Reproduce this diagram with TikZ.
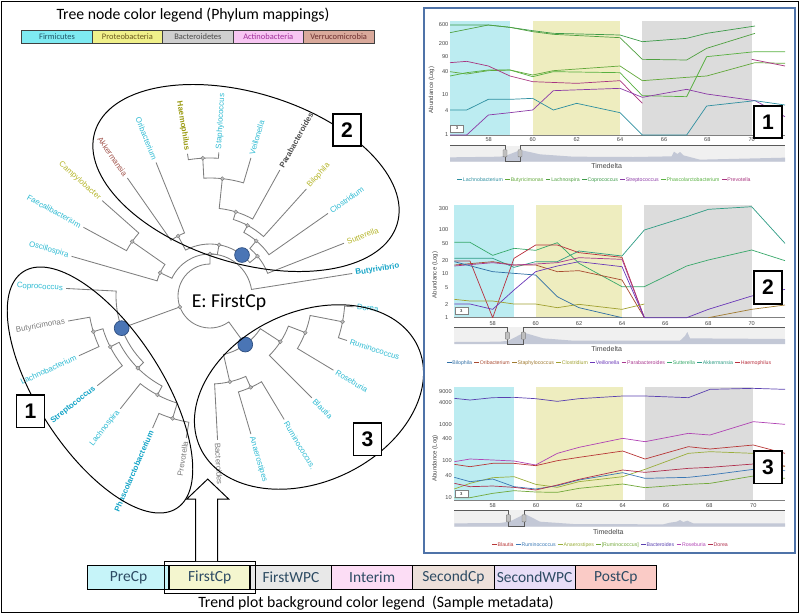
\documentclass[tikz,border=0pt]{standalone}
\usepackage{fontspec}
\setmainfont{Liberation Sans}
\newfontfamily\califont{Carlito}
\usetikzlibrary{positioning,fit,calc}
\definecolor{phfirm}{HTML}{7EEAF2}
\definecolor{phprot}{HTML}{F0F08A}
\definecolor{phbact}{HTML}{CFCFCF}
\definecolor{phacti}{HTML}{F7C6F2}
\definecolor{phverr}{HTML}{D9A99B}
\definecolor{phfirmt}{HTML}{1F5566}
\definecolor{phprott}{HTML}{6B5A1E}
\definecolor{phbactt}{HTML}{4A4A4A}
\definecolor{phactit}{HTML}{A0309A}
\definecolor{phverrt}{HTML}{6B2E2E}
\definecolor{firmcol}{HTML}{2DBAD2}
\definecolor{firmbold}{HTML}{12A3C6}
\definecolor{protcol}{HTML}{B5B52A}
\definecolor{protbold}{HTML}{9A9A12}
\definecolor{bactcol}{HTML}{7A7A7A}
\definecolor{bactbold}{HTML}{4D4D4D}
\definecolor{verrcol}{HTML}{A0524A}
\definecolor{treegray}{HTML}{7E7E7E}
\definecolor{dotgray}{HTML}{BDBDBD}
\definecolor{cladeblue}{HTML}{4A75B5}
\definecolor{cladeedge}{HTML}{2F4F80}
\definecolor{panelblue}{HTML}{4F73A8}
\definecolor{tickgray}{HTML}{444444}
\definecolor{bandpre}{HTML}{BCECF1}
\definecolor{bandfirst}{HTML}{EEEDBF}
\definecolor{bandsecond}{HTML}{DCDCDC}
\definecolor{sliderbg}{HTML}{F0F0F0}
\definecolor{sliderarea}{HTML}{C3C8D6}
\definecolor{phasetext}{HTML}{2D4B63}
\definecolor{prefill}{HTML}{C6F4F9}
\definecolor{firstfill}{HTML}{F4F6CF}
\definecolor{fwpcfill}{HTML}{E8E8E8}
\definecolor{interimfill}{HTML}{FCDDF5}
\definecolor{secondfill}{HTML}{EDE0DA}
\definecolor{swpcfill}{HTML}{E8DEF7}
\definecolor{postfill}{HTML}{FACBC6}
% trend line colours
\definecolor{lachno}{HTML}{2E8FA0}
\definecolor{butyri}{HTML}{62A83A}
\definecolor{lachnosp}{HTML}{4FA040}
\definecolor{copro}{HTML}{3C9A48}
\definecolor{strepto}{HTML}{8B3AA6}
\definecolor{phasco}{HTML}{58B040}
\definecolor{prevo}{HTML}{A8347F}
\definecolor{bilo}{HTML}{2F6EA5}
\definecolor{oriba}{HTML}{A84A30}
\definecolor{staph}{HTML}{A07A30}
\definecolor{clost}{HTML}{A0A030}
\definecolor{veill}{HTML}{6A38B8}
\definecolor{parab}{HTML}{A8388F}
\definecolor{sutter}{HTML}{38A86A}
\definecolor{akker}{HTML}{2E9C84}
\definecolor{haemo}{HTML}{B8303E}
\definecolor{blaut}{HTML}{B83838}
\definecolor{rumin}{HTML}{3A78B5}
\definecolor{anaer}{HTML}{9AAE3C}
\definecolor{rumbr}{HTML}{72A83A}
\definecolor{bacter}{HTML}{5A40B0}
\definecolor{roseb}{HTML}{B044B4}
\definecolor{dorea}{HTML}{B0304E}
\newcommand{\lgd}[2]{\textcolor{#1}{\rule[0.3em]{0.9em}{0.35pt}\,#2}\hspace{0.45em}}

\begin{document}
\begin{tikzpicture}[
  x=0.025cm, y=-0.025cm,
  heading/.style={font=\califont\fontsize{11.2}{13}\selectfont},
  phylum/.style={draw=darkgray, line width=0.5pt, outer sep=0pt, inner sep=0pt, minimum width=1.76cm, minimum height=0.315cm, font=\califont\fontsize{6}{7}\selectfont},
  phase/.style={draw=black, line width=0.6pt, outer sep=0pt, inner sep=0pt, minimum width=2.03cm, minimum height=0.6cm, text=phasetext, font=\califont\fontsize{11}{12}\selectfont},
  branch/.style={draw=treegray, line width=0.6pt},
  junction/.style={circle, draw=treegray, fill=dotgray, line width=0.3pt, inner sep=0pt, minimum size=2.8pt},
  clade/.style={circle, draw=cladeedge, fill=cladeblue, line width=0.5pt, inner sep=0pt, minimum size=0.37cm},
  leaf/.style={inner sep=0.8pt, font=\fontsize{5.6}{6}\selectfont},
  firm/.style={text=firmcol},
  firmb/.style={text=firmbold, font=\fontsize{5.6}{6}\selectfont\bfseries},
  prot/.style={text=protcol},
  protb/.style={text=protbold, font=\fontsize{5.6}{6}\selectfont\bfseries},
  bact/.style={text=bactcol},
  bactb/.style={text=bactbold, font=\fontsize{5.6}{6}\selectfont\bfseries},
  verr/.style={text=verrcol},
  cladering/.style={draw=black, line width=0.7pt},
  badge/.style={draw=black, line width=1.3pt, fill=white, minimum width=0.7cm, minimum height=0.82cm, inner sep=0pt, font=\fontsize{15}{15}\selectfont\bfseries},
  panel/.style={draw=panelblue, line width=0.8pt},
  ytick/.style={anchor=east, inner sep=0.5pt, text=tickgray, font=\fontsize{4}{4}\selectfont},
  xtick/.style={inner sep=0.5pt, text=tickgray, font=\fontsize{4}{4}\selectfont},
  ylab/.style={rotate=90, text=tickgray, font=\fontsize{4.3}{5}\selectfont},
  tdlab/.style={text=tickgray, font=\fontsize{5}{5}\selectfont},
  keytext/.style={font=\fontsize{3.7}{4}\selectfont},
  zoombox/.style={draw=gray, fill=white, line width=0.3pt, inner sep=0pt, minimum width=0.32cm, minimum height=0.17cm, font=\fontsize{3}{3}\selectfont},
  grip/.style={draw=gray, fill=lightgray, line width=0.3pt, rounded corners=0.5pt, inner sep=0pt, minimum width=0.1cm, minimum height=0.18cm},
  sliderline/.style={draw=gray!70!black, line width=0.6pt},
  trend/.style={line width=0.5pt, line join=round}
]
\useasboundingbox (0,0) rectangle (800,614);
\draw[line width=0.6pt] (1.5,1) rectangle (798.5,612.5);

% phylum colour legend
\node[heading] (treetitle) at (193,15) {Tree node color legend (Phylum mappings)};
\node[phylum, fill=phfirm, text=phfirmt] (firmicutes) at (57,37) {Firmicutes};
\node[phylum, fill=phprot, text=phprott, right=0pt of firmicutes] (proteo) {Proteobacteria};
\node[phylum, fill=phbact, text=phbactt, right=0pt of proteo] (bactero) {Bacteroidetes};
\node[phylum, fill=phacti, text=phactit, right=0pt of bactero] (actino) {Actinobacteria};
\node[phylum, fill=phverr, text=phverrt, right=0pt of actino] (verruco) {Verrucomicrobia};

% radial tree
\begin{scope}[shift={(210,296)}, yscale=-1]
\foreach \a/\r/\b/\p in {86.5/144/93/138, 99/144/93/138, 93/138/84/118, 73.5/144/84/118,
    84/118/73/88, 61/144/73/88, 73/88/62/80, 48/144/62/80, 62/80/50/72, 35/144/50/72,
    50/72/40/62, 21.5/144/40/62, 112/144/118/68, 125/144/118/68, 40/62/80/52, 118/68/80/52,
    138.5/144/145/95, 151.5/144/145/95, 145/95/155/55, 164/144/155/55,
    80/52/90/42, 9/144/90/42, 155/55/90/42,
    190/144/197/122, 204.5/144/197/122, 197/122/207/112, 218.5/144/207/112,
    246.5/144/253/128, 260.5/144/253/128, 231.5/144/242/112, 253/128/242/112,
    207/112/225/102, 242/112/225/102, 177/144/200/94, 225/102/200/94,
    342/144/349/135, 355.7/144/349/135, 329/144/339/102, 349/135/339/102,
    315/144/327/84, 339/102/327/84, 286.5/144/294/100, 301/144/294/100,
    273/144/283/88, 294/100/283/88, 283/88/306/60, 327/84/306/60,
    90/42/200/32, 200/94/200/32, 306/60/200/32}
  \draw[branch] (\a:\r) -- (\a:\p) arc[start angle=\a, end angle=\b, radius=\p];
\foreach \a/\r in {93/138, 84/118, 73/88, 62/80, 50/72, 40/62, 118/68, 80/52, 145/95, 155/55,
    90/42, 197/122, 207/112, 253/128, 242/112, 225/102, 349/135, 339/102, 327/84,
    294/100, 283/88, 200/32}
  \node[junction] (j\a) at (\a:\r) {};
\node[clade] (root1) at (200:94) {};
\node[clade] (root2) at (52:52) {};
\node[clade] (root3) at (306:60) {};
% leaf labels, right half
\foreach \a/\t/\s [count=\i] in {355.7/Dorea/firm, 9/Butyrivibrio/firmb, 21.5/Sutterella/prot,
    35/Clostridium/firm, 48/Bilophila/prot, 61/Parabacteroides/bactb, 73.5/Veillonella/firm,
    86.5/Staphylococcus/firm, 273/Bacteroides/bact, 286.5/Anaerostipes/firm,
    301/Ruminococcus./firm, 315/Blautia/firm, 329/Roseburia/firm, 342/Ruminococcus/firm}
  \node[leaf, \s, anchor=west, rotate=\a] (rl\i) at (\a:146) {\t};
% leaf labels, left half
\foreach \a/\t/\s [count=\i] in {99/Haemophilus/protb, 112/Oribacterium/firm, 125/Akkermansia/verr,
    138.5/Campylobacter/prot, 151.5/Faecalibacterium/firm, 164/Oscillospira/firm,
    177/Coprococcus/firm, 190/Butyricimonas/bact, 204.5/Lachnobacterium/firm,
    218.5/Streptococcus/firmb, 231.5/Lachnospira/firm, 246.5/Phascolarctobacterium/firmb,
    260.5/Prevotella/bact}
  \node[leaf, \s, anchor=east, rotate=\a+180] (ll\i) at (\a:146) {\t};
\end{scope}
\node[font=\califont\fontsize{14}{16}\selectfont] (stage) at (229,302) {E: FirstCp};

% clade outlines and badges
\draw[cladering, rotate around={-17:(246,178)}] (246,178) ellipse [x radius=158, y radius=85];
\draw[cladering, rotate around={-57:(100,390)}] (100,390) ellipse [x radius=141, y radius=62];
\draw[cladering, rotate around={25:(309,397)}] (309,397) ellipse [x radius=120, y radius=85];
\node[badge] (tb1) at (30.5,411) {1};
\node[badge] (tb2) at (347,130) {2};
\node[badge] (tb3) at (367.5,439) {3};

% trend plots
\draw[panel] (424,8) rectangle (795,553);

% plot 1
\begin{scope}[shift={(400,0)}, scale=1/3]
\fill[bandpre] (150,63) rectangle (330,405);
\fill[bandfirst] (398,63) rectangle (660,405);
\fill[bandsecond] (727,63) rectangle (1055,405);
\draw[gray, line width=0.4pt] (150,405) -- (1155,405);
\foreach \y/\t in {75/600, 130/200, 170/90, 215/40, 285/10, 333/4, 405/1}
  \node[ytick] (ya\t) at (148,\y) {\t};
\foreach \x/\t in {266/58, 398/60, 530/62, 660/64, 792/66, 922/68, 1055/70}
  \node[xtick] (xa\t) at (\x,420) {\t};
\node[ylab] (ylaba) at (95,270) {Abundance (Log)};
\draw[trend, copro] (150,75) -- (265,75) -- (330,82) -- (398,92) -- (460,100) -- (660,105) -- (727,125) -- (860,115) -- (920,100) -- (1065,78);
\draw[trend, lachnosp] (150,98) -- (265,75) -- (330,82) -- (398,95) -- (460,103) -- (660,113) -- (727,178) -- (860,180) -- (920,145) -- (1065,100);
\draw[trend, butyri] (150,215) -- (200,222) -- (265,212) -- (330,210) -- (398,225) -- (460,212) -- (660,198) -- (727,242) -- (860,232) -- (920,228) -- (1065,188) -- (1155,190);
\draw[trend, phasco] (150,228) -- (200,218) -- (265,210) -- (330,210) -- (398,230) -- (460,215) -- (660,218) -- (727,287) -- (860,290) -- (920,170) -- (1065,155) -- (1155,155);
\draw[trend, prevo] (150,188) -- (200,184) -- (265,198) -- (330,228) -- (398,245) -- (530,250) -- (660,242) -- (727,310);
\draw[trend, prevo] (1055,178) -- (1155,198);
\draw[trend, strepto] (150,405) -- (200,405) -- (265,345) -- (330,338) -- (398,330) -- (460,272) -- (660,265) -- (727,292) -- (860,268) -- (920,282) -- (1065,302) -- (1155,350);
\draw[trend, lachno] (150,330) -- (200,330) -- (265,298) -- (330,298) -- (398,295) -- (460,330) -- (530,310) -- (660,338) -- (727,405) -- (860,405) -- (920,318) -- (1065,302) -- (1155,315);
\node[zoombox] (za) at (171,385) {3};
\fill[sliderbg] (150,437) rectangle (1155,485);
\fill[sliderarea] (150,485) -- (150,472) -- (300,470) -- (320,466) -- (362,450) -- (420,463) -- (520,470) -- (700,471) -- (815,469) -- (822,455) -- (832,462) -- (840,456) -- (850,466) -- (900,479) -- (1155,473) -- (1155,485) -- cycle;
\draw[sliderline] (150,437) -- (315,437) -- (315,485) -- (360,485) -- (360,437) -- (1155,437);
\node[grip] (ga1) at (315,460) {};
\node[grip] (ga2) at (360,460) {};
\node[tdlab] (tda) at (620,497) {Timedelta};
\node[keytext] (keya) at (612,540) {\lgd{lachno}{Lachnobacterium}\lgd{butyri}{Butyricimonas}\lgd{lachnosp}{Lachnospira}\lgd{copro}{Coprococcus}\lgd{strepto}{Streptococcus}\lgd{phasco}{Phascolarctobacterium}\lgd{prevo}{Prevotella}};
\end{scope}

% plot 2
\begin{scope}[shift={(400,190)}, scale=1/3]
\fill[bandpre] (163,45) rectangle (342,383);
\fill[bandfirst] (407,45) rectangle (666,383);
\fill[bandsecond] (733,45) rectangle (1057,383);
\draw[gray, line width=0.4pt] (163,383) -- (1155,383);
\foreach \y/\t in {57/300, 118/100, 160/50, 212/20, 252/10, 293/5, 345/2, 383/1}
  \node[ytick] (yb\t) at (148,\y) {\t};
\foreach \x/\t in {278/58, 407/60, 537/62, 666/64, 796/66, 925/68, 1055/70}
  \node[xtick] (xb\t) at (\x,400) {\t};
\node[ylab] (ylabb) at (105,255) {Abundance (Log)};
\draw[trend, akker] (163,205) -- (278,205) -- (342,232) -- (407,215) -- (472,215) -- (537,183) -- (666,198) -- (733,120) -- (860,80) -- (925,58) -- (1055,50) -- (1155,160);
\draw[trend, sutter] (163,157) -- (210,157) -- (278,196) -- (342,175) -- (407,181) -- (472,158) -- (537,220) -- (666,290) -- (733,290) -- (860,228) -- (925,210) -- (1055,180) -- (1155,212);
\draw[trend, haemo] (163,213) -- (210,213) -- (278,383) -- (342,205) -- (407,165) -- (472,165) -- (537,188) -- (666,202) -- (733,383);
\draw[trend, oriba] (163,225) -- (278,215) -- (342,225) -- (407,225) -- (472,245) -- (537,242) -- (666,270) -- (733,383);
\draw[trend, parab] (163,228) -- (278,218) -- (342,225) -- (407,222) -- (472,218) -- (537,203) -- (666,208) -- (733,383);
\draw[trend, veill] (163,342) -- (210,342) -- (278,358) -- (342,300) -- (407,245) -- (472,228) -- (537,215) -- (666,230) -- (733,383) -- (860,383) -- (925,358) -- (1055,318) -- (1155,298);
\draw[trend, bilo] (163,215) -- (278,245) -- (342,250) -- (407,255) -- (472,320) -- (537,353) -- (666,383);
\draw[trend, clost] (163,328) -- (210,333) -- (278,333) -- (342,342) -- (407,342) -- (472,353) -- (537,343) -- (666,358) -- (733,342);
\draw[trend, staph] (925,383) -- (1055,358) -- (1155,345);
\node[zoombox] (zb) at (184,362) {3};
\fill[sliderbg] (163,412) rectangle (1155,462);
\fill[sliderarea] (163,462) -- (163,456) -- (300,455) -- (325,452) -- (372,428) -- (430,445) -- (520,452) -- (840,452) -- (855,438) -- (862,426) -- (870,445) -- (1155,447) -- (1155,462) -- cycle;
\draw[sliderline] (163,412) -- (322,412) -- (322,462) -- (370,462) -- (370,412) -- (1155,412);
\node[grip] (gb1) at (322,437) {};
\node[grip] (gb2) at (370,437) {};
\node[tdlab] (tdb) at (620,478) {Timedelta};
\node[keytext] (keyb) at (627,518) {\lgd{bilo}{Bilophila}\lgd{oriba}{Oribacterium}\lgd{staph}{Staphylococcus}\lgd{clost}{Clostridium}\lgd{veill}{Veillonella}\lgd{parab}{Parabacteroides}\lgd{sutter}{Sutterella}\lgd{akker}{Akkermansia}\lgd{haemo}{Haemophilus}};
\end{scope}

% plot 3
\begin{scope}[shift={(400,370)}, scale=1/3]
\fill[bandpre] (163,52) rectangle (342,390);
\fill[bandfirst] (408,52) rectangle (668,390);
\fill[bandsecond] (735,52) rectangle (1060,390);
\draw[gray, line width=0.4pt] (163,390) -- (1155,390);
\foreach \y/\t in {65/9000, 97/4000, 163/1000, 207/400, 272/100, 317/40, 383/10}
  \node[ytick] (yc\t) at (158,\y) {\t};
\foreach \x/\t in {278/58, 408/60, 538/62, 668/64, 798/66, 928/68, 1060/70}
  \node[xtick] (xc\t) at (\x,407) {\t};
\node[ylab] (ylabc) at (105,265) {Abundance (Log)};
\draw[trend, bacter] (163,85) -- (210,90) -- (278,83) -- (342,82) -- (407,86) -- (472,94) -- (537,86) -- (668,78) -- (735,78) -- (865,83) -- (930,58) -- (1060,55) -- (1155,58);
\draw[trend, roseb] (163,275) -- (210,267) -- (278,270) -- (342,273) -- (407,285) -- (472,250) -- (537,232) -- (668,205) -- (735,215) -- (865,190) -- (930,195) -- (1060,155) -- (1155,163);
\draw[trend, blaut] (163,283) -- (210,290) -- (278,280) -- (342,280) -- (407,287) -- (472,272) -- (537,262) -- (668,243) -- (735,267) -- (865,230) -- (930,237) -- (1060,225) -- (1155,250);
\draw[trend, anaer] (163,357) -- (210,340) -- (278,323) -- (342,320) -- (407,343) -- (472,352) -- (537,335) -- (668,320) -- (735,298) -- (865,250) -- (930,245) -- (1060,250) -- (1155,290);
\draw[trend, rumin] (163,322) -- (210,335) -- (278,327) -- (342,350) -- (407,357) -- (472,347) -- (537,330) -- (668,308) -- (735,325) -- (865,322) -- (930,315) -- (1060,298) -- (1155,302);
\draw[trend, dorea] (163,340) -- (210,350) -- (278,348) -- (342,352) -- (407,360) -- (472,345) -- (537,328) -- (668,300) -- (735,307) -- (865,295) -- (930,292) -- (1060,282) -- (1155,288);
\draw[trend, rumbr] (163,383) -- (210,383) -- (278,370) -- (342,362) -- (407,366) -- (472,367) -- (537,355) -- (668,342) -- (735,353) -- (865,343) -- (930,340) -- (1060,318) -- (1155,325);
\node[zoombox] (zc) at (184,371) {3};
\fill[sliderbg] (163,420) rectangle (1155,470);
\fill[sliderarea] (163,470) -- (163,460) -- (300,459) -- (328,455) -- (375,432) -- (420,455) -- (520,462) -- (790,463) -- (810,458) -- (830,455) -- (840,450) -- (850,456) -- (862,452) -- (880,460) -- (1155,460) -- (1155,470) -- cycle;
\draw[sliderline] (163,420) -- (325,420) -- (325,470) -- (372,470) -- (372,420) -- (1155,420);
\node[grip] (gc1) at (325,445) {};
\node[grip] (gc2) at (372,445) {};
\node[tdlab] (tdc) at (625,485) {Timedelta};
\node[keytext] (keyc) at (630,525) {\lgd{blaut}{Blautia}\lgd{rumin}{Ruminococcus}\lgd{anaer}{Anaerostipes}\lgd{rumbr}{[Ruminococcus]}\lgd{bacter}{Bacteroides}\lgd{roseb}{Roseburia}\lgd{dorea}{Dorea}};
\end{scope}

\node[badge] (pb1) at (768,122) {1};
\node[badge] (pb2) at (768,287.5) {2};
\node[badge] (pb3) at (768,467) {3};

% sample metadata legend
\node[phase, fill=prefill] (precp) at (128.5,577.5) {PreCp};
\node[phase, fill=firstfill, line width=1.2pt, right=0pt of precp] (firstcp) {FirstCp};
\node[phase, fill=fwpcfill, right=0pt of firstcp] (firstwpc) {FirstWPC};
\node[phase, fill=interimfill, right=0pt of firstwpc] (interim) {Interim};
\node[phase, fill=secondfill, right=0pt of interim] (secondcp) {SecondCp};
\node[phase, fill=swpcfill, right=0pt of secondcp] (secondwpc) {SecondWPC};
\node[phase, fill=postfill, right=0pt of secondwpc] (postcp) {PostCp};
\node[draw=black, line width=0.6pt, fit=(firstcp), inner xsep=0.12cm, inner ysep=0.1cm] (pick) {};
\draw[line width=0.7pt, fill=white] (pick.north) ++(-14,0) -- ++(0,-62) -- ++(-9,0) -- ++(21,-20) -- ++(21,20) -- ++(-11,0) -- ++(0,62);
\node[heading] (trendtitle) at (376,603) {Trend plot background color legend\ \ (Sample metadata)};
\end{tikzpicture}
\end{document}
